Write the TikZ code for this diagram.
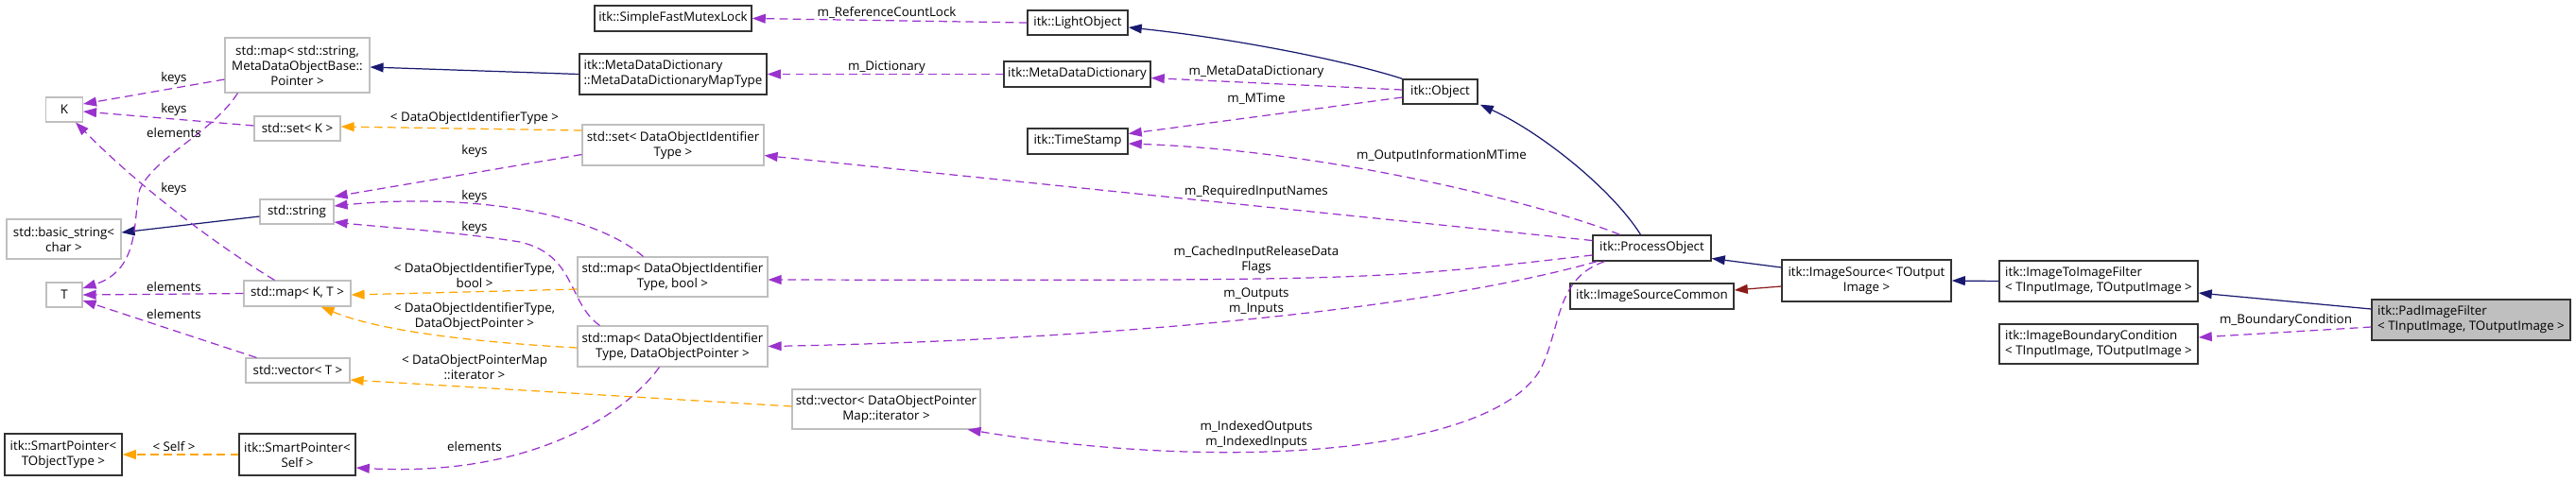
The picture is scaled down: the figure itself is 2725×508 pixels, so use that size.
\documentclass[tikz,border=0pt]{standalone}
\usepackage{fontspec}
\setmainfont{Open Sans}
\usetikzlibrary{arrows.meta,calc}

\definecolor{azulnoite}{HTML}{191970}
\definecolor{orquidea}{HTML}{9A32CD}
\definecolor{laranja}{HTML}{FFA500}
\definecolor{tijolo}{HTML}{8B1A1A}
\definecolor{cinzaborda}{HTML}{BFBFBF}

\begin{document}
\begin{tikzpicture}[
    x=0.02cm, y=-0.02cm,
    font=\fontsize{7.6}{9.1}\selectfont,
    % Tamanho das caixas (em px da figura)
    tam/.style 2 args={minimum width=#1*0.02cm, minimum height=#2*0.02cm},
    % Classes sem documentação
    no/.style={
        draw=cinzaborda, line width=0.6pt, fill=white,
        inner sep=1pt, align=center
    },
    % Classes documentadas
    nodoc/.style={
        draw=black!80, line width=0.8pt, fill=white,
        inner sep=1pt, align=center
    },
    % Classe do diagrama
    noalvo/.style={nodoc, fill=cinzaborda, align=left},
    rot/.style={inner sep=0pt, align=center},
    ponta/.style={-{Triangle[length=8pt, width=5.6pt]}},
    heranca/.style={draw=azulnoite, line width=0.7pt, ponta},
    herprot/.style={draw=tijolo, line width=0.7pt, ponta},
    membro/.style={draw=orquidea, line width=0.7pt, dash pattern=on 5pt off 3pt, ponta},
    modelo/.style={draw=laranja, line width=0.7pt, dash pattern=on 5pt off 3pt, ponta}
]
\useasboundingbox (0,0) rectangle (2725,508);

% ---- COLUNA 1 ----
\node[no, tam={39}{26}]   (k)        at (68,116)  {K};
\node[no, tam={121}{42}]  (basicstr) at (67.5,253) {std::basic\_string<\\char >};
\node[no, tam={38}{26}]   (t)        at (68,312)  {T};
\node[nodoc, tam={124}{44}] (sp_tobj) at (67,481) {itk::SmartPointer<\\TObjectType >};

% ---- COLUNA 2 ----
\node[no, tam={153}{58}]  (mapstr) at (314.5,69)  {std::map< std::string,\\ MetaDataObjectBase::\\Pointer >};
\node[no, tam={91}{26}]   (setk)   at (314.5,136) {std::set< K >};
\node[no, tam={78}{26}]   (str)    at (314,224)   {std::string};
\node[no, tam={113}{27}]  (mapkt)  at (314.5,310.5) {std::map< K, T >};
\node[no, tam={110}{26}]  (vect)   at (315,392)   {std::vector< T >};
\node[nodoc, tam={123}{44}] (sp_self) at (314.5,481) {itk::SmartPointer<\\Self >};

% ---- COLUNA 3 ----
\node[nodoc, tam={166}{27}] (mutex)  at (712,19.5)  {itk::SimpleFastMutexLock};
\node[nodoc, tam={198}{43}, align=left] (mddmap) at (712,78.5) {itk::MetaDataDictionary\\::MetaDataDictionaryMapType};
\node[no, tam={192}{43}]  (setdoi)  at (712,153.5)  {std::set< DataObjectIdentifier\\Type >};
\node[no, tam={201}{42}]  (mapbool) at (711.5,293)  {std::map< DataObjectIdentifier\\Type, bool >};
\node[no, tam={201}{43}]  (mapdop)  at (711.5,366.5) {std::map< DataObjectIdentifier\\Type, DataObjectPointer >};
\node[no, tam={199}{42}]  (vecit)   at (937.5,433)  {std::vector< DataObjectPointer\\Map::iterator >};

% ---- COLUNA 4 ----
\node[nodoc, tam={106}{26}] (light)  at (1140,24)    {itk::LightObject};
\node[nodoc, tam={155}{27}] (mdd)    at (1139.5,78.5) {itk::MetaDataDictionary};
\node[nodoc, tam={106}{27}] (tstamp) at (1140,149.5) {itk::TimeStamp};

% ---- OBJETOS ITK ----
\node[nodoc, tam={79}{26}]  (obj)    at (1523.5,97)   {itk::Object};
\node[nodoc, tam={125}{27}] (proc)   at (1747.5,262.5) {itk::ProcessObject};
\node[nodoc, tam={173}{27}] (srccom) at (1747.5,313.5) {itk::ImageSourceCommon};
\node[nodoc, tam={179}{44}] (imgsrc) at (1974.5,297)  {itk::ImageSource< TOutput\\Image >};
\node[nodoc, tam={210}{43}, align=left] (i2i)   at (2220,297.5) {itk::ImageToImageFilter\\< TInputImage, TOutputImage >};
\node[nodoc, tam={210}{42}, align=left] (bcond) at (2220,364)   {itk::ImageBoundaryCondition\\< TInputImage, TOutputImage >};
\node[noalvo, tam={210}{43}] (pad) at (2614,338.5) {itk::PadImageFilter\\< TInputImage, TOutputImage >};

% ---- HERANÇA ----
\draw[heranca] (obj.north west) .. controls (1420,63) and (1300,40) .. ($(light.east)+(0,5)$);
\draw[heranca] (mddmap.west) -- ($(mapstr.east)+(0,2)$);
\draw[heranca] ($(proc.north)+(-12,0)$) .. controls (1705,200) and (1630,140) .. ($(obj.south east)+(2,0)$);
\draw[heranca] ($(imgsrc.west)+(0,-14)$) -- ($(proc.east)+(0,11)$);
\draw[herprot] ($(imgsrc.west)+(0,6)$) -- ($(srccom.east)+(0,-6.5)$);
\draw[heranca] (i2i.west) -- (imgsrc.east);
\draw[heranca] ($(pad.west)+(0,-11.5)$) -- ($(i2i.east)+(0,12.5)$);
\draw[heranca] ($(str.west)+(0,5)$) -- ($(basicstr.east)+(0,-7)$);

% ---- MEMBROS ----
\draw[membro] (light.west) -- (mutex.east);
\node[rot] (r_refcount) at (938,13) {m\_ReferenceCountLock};
\draw[membro] (mdd.west) -- (mddmap.east);
\node[rot] (r_dict) at (938,71) {m\_Dictionary};
\draw[membro] ($(obj.west)+(0,-2)$) -- ($(mdd.east)+(0,4)$);
\node[rot] (r_mddict) at (1329,76) {m\_MetaDataDictionary};
\draw[membro] ($(obj.west)+(0,6)$) -- ($(tstamp.east)+(0,-8)$);
\node[rot] (r_mtime) at (1329,105) {m\_MTime};
\draw[membro] ($(proc.north)+(-34,0)$) .. controls (1650,222) and (1420,160) .. ($(tstamp.east)+(0,2.5)$);
\node[rot] (r_outinfo) at (1525,165) {m\_OutputInformationMTime};
\draw[membro] ($(proc.west)+(0,-8)$) -- ($(setdoi.east)+(0,11)$);
\node[rot] (r_reqnames) at (1329,203) {m\_RequiredInputNames};
\draw[membro] ($(proc.west)+(0,7.5)$) .. controls (1450,297) .. ($(mapbool.east)+(0,3)$);
\node[rot] (r_cached) at (1329,275) {m\_CachedInputReleaseData\\Flags};
\draw[membro] ($(proc.south west)+(5,0)$) .. controls (1500,330) and (1150,360) .. (mapdop.east);
\node[rot] (r_outin) at (1329,319) {m\_Outputs\\m\_Inputs};
\draw[membro] ($(proc.south west)+(13,0)$) .. controls (1645,295) and (1652,345) .. (1630,390)
    .. controls (1580,480) and (1300,500) .. ($(vecit.south east)+(-14,0)$);
\node[rot] (r_indexed) at (1329,460) {m\_IndexedOutputs\\m\_IndexedInputs};
\draw[membro] ($(pad.west)+(0,7.5)$) -- ($(bcond.east)+(0,-7)$);
\node[rot] (r_bcond) at (2418,339) {m\_BoundaryCondition};

% ---- CHAVES E ELEMENTOS ----
\draw[membro] ($(mapstr.west)+(0,15)$) -- ($(k.east)+(0,-6)$);
\node[rot] (r_keys1) at (184,83) {keys};
\draw[membro] ($(setk.west)+(0,-3)$) -- ($(k.east)+(0,2)$);
\node[rot] (r_keys2) at (184,116) {keys};
\draw[membro] ($(mapstr.south west)+(14,0)$) .. controls (225,140) and (165,165) .. (148,200)
    .. controls (140,230) and (150,285) .. ($(t.east)+(0,-7)$);
\node[rot] (r_elem1) at (184,140) {elements};
\draw[membro] ($(mapkt.north)+(-24,0)$) .. controls (230,260) and (150,200) .. ($(k.south)+(12,0)$);
\node[rot] (r_keys3) at (184,200) {keys};
\draw[membro] (mapkt.west) -- (t.east);
\node[rot] (r_elem2) at (184,303) {elements};
\draw[membro] ($(vect.north west)+(12,0)$) -- ($(t.east)+(0,6)$);
\node[rot] (r_elem3) at (184,332) {elements};
\draw[membro] ($(setdoi.west)+(0,10)$) -- ($(str.east)+(0,-16)$);
\node[rot] (r_keys4) at (502,160) {keys};
\draw[membro] ($(mapbool.north)+(-31,0)$) .. controls (620,220) and (480,205) .. ($(str.east)+(0,-6)$);
\node[rot] (r_keys5) at (502,208) {keys};
\draw[membro] ($(mapdop.north west)+(24,0)$) .. controls (600,320) and (610,270) .. (550,256)
    .. controls (480,245) and (400,240) .. ($(str.east)+(0,11)$);
\node[rot] (r_keys6) at (502,241) {keys};
\draw[membro] ($(mapdop.south)+(-14,0)$) .. controls (660,440) and (560,505) .. ($(sp_self.east)+(0,14)$);
\node[rot] (r_elem4) at (502,472) {elements};

% ---- PARÂMETROS DE MODELO ----
\draw[modelo] ($(setdoi.west)+(0,-15.5)$) -- ($(setk.east)+(0,-2)$);
\node[rot] (r_tdoi) at (502,125) {< DataObjectIdentifierType >};
\draw[modelo] ($(mapbool.west)+(0,13)$) -- ($(mapkt.east)+(0,1.5)$);
\node[rot] (r_tbool) at (502,291) {< DataObjectIdentifierType,\\bool >};
\draw[modelo] ($(mapdop.west)+(0,1.5)$) .. controls (500,362) and (400,350) .. ($(mapkt.south east)+(-32,0)$);
\node[rot] (r_tdop) at (502,335) {< DataObjectIdentifierType,\\DataObjectPointer >};
\draw[modelo] ($(vecit.west)+(0,-3)$) -- ($(vect.east)+(0,10)$);
\node[rot] (r_tit) at (502,389) {< DataObjectPointerMap\\::iterator >};
\draw[modelo] (sp_self.west) -- (sp_tobj.east);
\node[rot] (r_self) at (184,472) {< Self >};

\end{tikzpicture}
\end{document}
